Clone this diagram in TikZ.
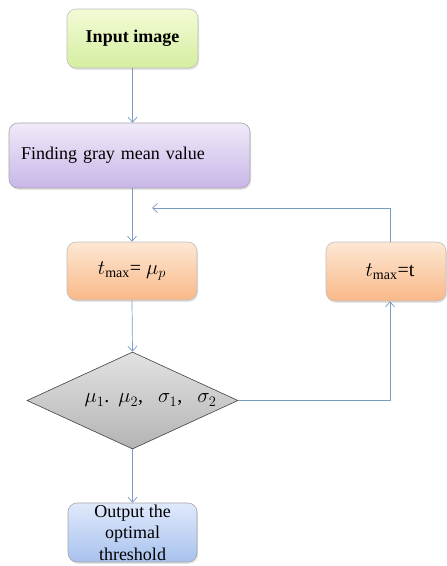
\documentclass[tikz,border=0pt]{standalone}
\usepackage{fontspec}
\setmainfont{Liberation Serif}
\usetikzlibrary{shapes.geometric,arrows.meta,shadows}
\definecolor{linec}{HTML}{7A9BC4}
\begin{document}
\begin{tikzpicture}[x=1pt,y=-1pt,
  box/.style={rounded corners=9pt, draw=#1, line width=0.6pt, inner sep=0pt,
     drop shadow={opacity=0.22, shadow xshift=1pt, shadow yshift=-1.8pt}},
  conn/.style={draw=linec, line width=0.7pt},
  arr/.style={conn, -{Straight Barb[length=5pt,width=9pt]}},
  txt/.style={font=\fontsize{18}{21.5}\selectfont},
  mtxt/.style={font=\fontsize{20}{24}\selectfont}]
\useasboundingbox (0,0) rectangle (447,566);
\fill[white] (0,0) rectangle (447,566);
\node[box=black!25, top color={rgb,255:red,243;green,251;blue,214}, bottom color={rgb,255:red,212;green,238;blue,160},
  minimum width=131pt, minimum height=59pt, txt] (in) at (132.5,38.5) {\textbf{Input image}};
\node[box=black!35, top color={rgb,255:red,240;green,234;blue,248}, bottom color={rgb,255:red,200;green,182;blue,232},
  minimum width=241pt, minimum height=65pt, text width=217pt, align=left, txt] (gray) at (129.5,155.5) {Finding gray mean value};
\node[box=black!25, top color={rgb,255:red,253;green,232;blue,212}, bottom color={rgb,255:red,249;green,184;blue,136},
  minimum width=130pt, minimum height=58pt, mtxt] (tm) at (132,271) {$t_{\max}$= $\mu_p$};
\node[box=black!25, top color={rgb,255:red,253;green,232;blue,212}, bottom color={rgb,255:red,249;green,184;blue,136},
  minimum width=120pt, minimum height=59pt, mtxt] (tr) at (386,271.5) {\hspace*{8pt}$t_{\max}$=t};
\node[diamond, draw=black!75, line width=0.6pt, top color={rgb,255:red,226;green,226;blue,226}, bottom color={rgb,255:red,180;green,180;blue,180},
  minimum width=211pt, minimum height=97pt, inner sep=0pt,
  label={[mtxt, xshift=18pt]center:$\mu_1$.\hspace{9pt}$\mu_2$,\hspace{15pt}$\sigma_1$,\hspace{15pt}$\sigma_2$}] (dm) at (132.5,400.5) {};
\node[box=black!35, top color={rgb,255:red,223;green,233;blue,251}, bottom color={rgb,255:red,168;green,194;blue,238},
  minimum width=129pt, minimum height=59pt, align=center, txt] (out) at (132.5,532.5) {Output the\\optimal\\threshold};
\coordinate (fb) at (152,208);
\coordinate (rx) at (390,0);
\draw[arr] (in.south) -- (in.south |- gray.north);
\draw[arr] (gray.south -| tm.north) -- (tm.north);
\draw[arr] (rx |- tr.north) |- (fb);
\draw[arr] (tm.south) -- (dm.north);
\draw[arr] (dm.east) -| (rx |- tr.south);
\draw[arr] (dm.south) -- (out.north);
\end{tikzpicture}
\end{document}
